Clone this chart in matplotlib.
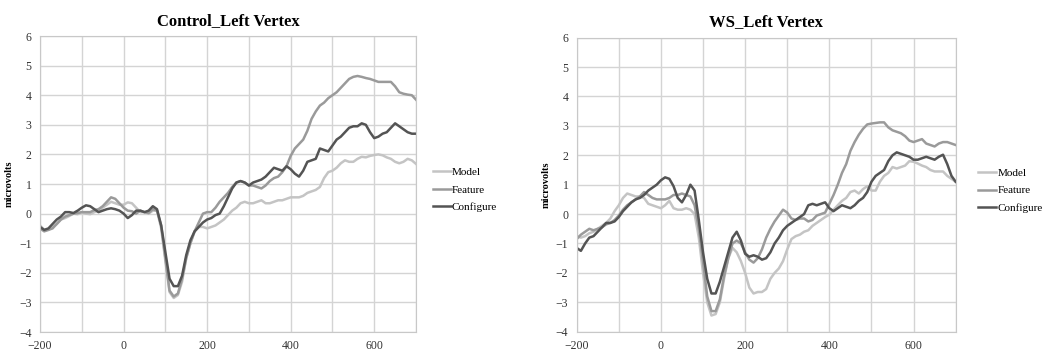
import matplotlib.pyplot as plt
import numpy as np

plt.rcParams['font.family'] = ['Liberation Serif', 'DejaVu Serif']

# time axis (ms), one sample every 10 ms
t = np.arange(-200, 701, 10)

ctrl_model = [-0.4, -0.55, -0.55, -0.45, -0.35, -0.2, -0.15, -0.08, 0.0, -0.02,
              0.05, 0.0, -0.02, 0.05, 0.1, 0.2, 0.3, 0.4, 0.35, 0.3,
              0.3, 0.38, 0.35, 0.2, 0.05, 0.05, 0.0, 0.1, 0.1, -0.5,
              -1.6, -2.65, -2.85, -2.75, -2.3, -1.5, -1.0, -0.6, -0.45, -0.45,
              -0.5, -0.45, -0.4, -0.3, -0.2, -0.05, 0.1, 0.2, 0.35, 0.4,
              0.35, 0.35, 0.4, 0.45, 0.35, 0.35, 0.4, 0.45, 0.45, 0.5,
              0.55, 0.55, 0.55, 0.6, 0.7, 0.75, 0.8, 0.9, 1.2, 1.4,
              1.45, 1.55, 1.7, 1.8, 1.75, 1.75, 1.85, 1.92, 1.9, 1.95,
              1.98, 2.0, 1.97, 1.9, 1.85, 1.75, 1.7, 1.75, 1.85, 1.8, 1.68]
ctrl_feature = [-0.5, -0.6, -0.55, -0.5, -0.35, -0.2, -0.1, -0.05, 0.0, 0.02,
                0.05, 0.05, 0.05, 0.12, 0.15, 0.25, 0.4, 0.55, 0.5, 0.35,
                0.2, 0.1, 0.08, 0.0, 0.1, 0.05, 0.02, 0.15, 0.1, -0.4,
                -1.5, -2.6, -2.8, -2.7, -2.2, -1.5, -1.0, -0.6, -0.3, 0.0,
                0.05, 0.05, 0.2, 0.4, 0.55, 0.7, 0.9, 1.05, 1.1, 1.05,
                0.95, 0.95, 0.9, 0.85, 0.95, 1.1, 1.2, 1.25, 1.4, 1.6,
                1.95, 2.2, 2.35, 2.5, 2.8, 3.2, 3.45, 3.65, 3.75, 3.9,
                4.0, 4.1, 4.25, 4.4, 4.55, 4.62, 4.65, 4.62, 4.58, 4.55,
                4.5, 4.45, 4.45, 4.45, 4.45, 4.3, 4.1, 4.05, 4.02, 4.0, 3.85]
ctrl_config = [-0.45, -0.55, -0.5, -0.35, -0.2, -0.1, 0.05, 0.05, 0.02, 0.1,
               0.2, 0.28, 0.25, 0.15, 0.05, 0.1, 0.15, 0.18, 0.15, 0.1,
               0.0, -0.15, -0.05, 0.1, 0.1, 0.05, 0.1, 0.25, 0.15, -0.4,
               -1.3, -2.2, -2.45, -2.45, -2.1, -1.4, -0.9, -0.6, -0.45, -0.3,
               -0.2, -0.15, -0.05, 0.0, 0.25, 0.55, 0.85, 1.05, 1.1, 1.05,
               0.95, 1.05, 1.1, 1.15, 1.25, 1.4, 1.55, 1.5, 1.45, 1.6,
               1.5, 1.35, 1.25, 1.45, 1.75, 1.8, 1.85, 2.2, 2.15, 2.1,
               2.3, 2.5, 2.6, 2.75, 2.9, 2.95, 2.95, 3.05, 3.0, 2.75,
               2.55, 2.6, 2.7, 2.75, 2.9, 3.05, 2.95, 2.85, 2.75, 2.7, 2.7]

ws_model = [-0.75, -0.8, -0.75, -0.65, -0.6, -0.5, -0.4, -0.3, -0.15, 0.1,
            0.3, 0.55, 0.7, 0.65, 0.6, 0.6, 0.55, 0.35, 0.3, 0.25,
            0.2, 0.3, 0.45, 0.2, 0.15, 0.15, 0.2, 0.15, 0.0, -0.8,
            -2.0, -3.0, -3.45, -3.4, -3.0, -2.2, -1.5, -1.15, -1.3, -1.6,
            -2.0, -2.5, -2.7, -2.65, -2.65, -2.55, -2.2, -2.0, -1.85, -1.6,
            -1.2, -0.85, -0.75, -0.7, -0.6, -0.55, -0.4, -0.3, -0.2, -0.1,
            -0.02, 0.15, 0.3, 0.45, 0.55, 0.75, 0.8, 0.7, 0.85, 0.95,
            0.8, 0.8, 1.1, 1.3, 1.4, 1.6, 1.55, 1.6, 1.65, 1.8,
            1.78, 1.72, 1.65, 1.6, 1.5, 1.45, 1.45, 1.45, 1.3, 1.2, 1.1]
ws_feature = [-0.85, -0.7, -0.6, -0.5, -0.55, -0.5, -0.45, -0.35, -0.3, -0.2,
              -0.05, 0.15, 0.3, 0.4, 0.5, 0.6, 0.75, 0.65, 0.55, 0.5,
              0.5, 0.5, 0.55, 0.65, 0.65, 0.7, 0.65, 0.6, 0.3, -0.5,
              -1.6, -2.8, -3.3, -3.3, -2.9, -2.1, -1.5, -1.0, -0.9, -1.0,
              -1.3, -1.55, -1.65, -1.5, -1.2, -0.8, -0.5, -0.25, -0.05, 0.15,
              0.05, -0.15, -0.2, -0.15, -0.15, -0.25, -0.2, -0.05, 0.0, 0.05,
              0.35, 0.65, 1.0, 1.4, 1.7, 2.15, 2.45, 2.7, 2.9, 3.05,
              3.08, 3.1, 3.12, 3.12, 2.95, 2.85, 2.8, 2.75, 2.65, 2.5,
              2.45, 2.5, 2.55, 2.4, 2.35, 2.3, 2.4, 2.45, 2.45, 2.4, 2.35]
ws_config = [-1.15, -1.25, -1.0, -0.8, -0.75, -0.6, -0.45, -0.3, -0.3, -0.25,
             -0.1, 0.1, 0.25, 0.4, 0.5, 0.55, 0.65, 0.8, 0.9, 1.0,
             1.15, 1.25, 1.2, 0.95, 0.55, 0.4, 0.65, 1.0, 0.8, -0.2,
             -1.3, -2.2, -2.7, -2.7, -2.3, -1.8, -1.3, -0.8, -0.6, -0.9,
             -1.35, -1.45, -1.4, -1.45, -1.55, -1.5, -1.3, -1.0, -0.8, -0.55,
             -0.4, -0.3, -0.2, -0.1, 0.0, 0.3, 0.35, 0.3, 0.35, 0.4,
             0.2, 0.1, 0.2, 0.3, 0.25, 0.2, 0.3, 0.45, 0.55, 0.75,
             1.1, 1.3, 1.4, 1.5, 1.8, 2.0, 2.1, 2.05, 2.0, 1.95,
             1.85, 1.85, 1.9, 1.95, 1.9, 1.85, 1.95, 2.02, 1.7, 1.3, 1.1]

labels = ['Model', 'Feature', 'Configure']
colors = ['#c4c4c4', '#9a9a9a', '#545454']

fig = plt.figure(figsize=(10.51, 3.51), dpi=100)
ax1 = fig.add_axes([0.0381, 0.0541, 0.3577, 0.8433])
ax2 = fig.add_axes([0.5487, 0.055, 0.3606, 0.8376])

panels = [(ax1, 'Control_Left Vertex', [ctrl_model, ctrl_feature, ctrl_config], 1.045),
          (ax2, 'WS_Left Vertex', [ws_model, ws_feature, ws_config], 1.06)]

for ax, title, series, lx in panels:
    for vals, lab, c in zip(series, labels, colors):
        ax.plot(t, vals, color=c, lw=1.8, label=lab)
    ax.set_xlim(-200, 700)
    ax.set_ylim(-4, 6)
    ax.set_xticks([-200, 0, 200, 400, 600])
    ax.set_xticks(range(-200, 701, 100), minor=True)
    ax.set_yticks(range(-4, 7))
    ax.grid(True, which='both', color='#d4d4d4', lw=1)
    ax.set_axisbelow(True)
    ax.tick_params(length=0, labelsize=8.5, colors='#333333', pad=6)
    ax.tick_params(which='minor', length=0)
    for s in ax.spines.values():
        s.set_color('#c8c8c8')
    ax.set_title(title, fontsize=12, fontweight='bold', pad=8)
    ax.set_ylabel('microvolts', fontsize=7.5, fontweight='bold', labelpad=4)
    ax.legend(loc='center left', bbox_to_anchor=(lx, 0.48), frameon=False,
              fontsize=8, handlelength=1.6, handletextpad=0.1, labelspacing=0.7,
              borderaxespad=0, borderpad=0)

fig.savefig('out.png', dpi=100)
